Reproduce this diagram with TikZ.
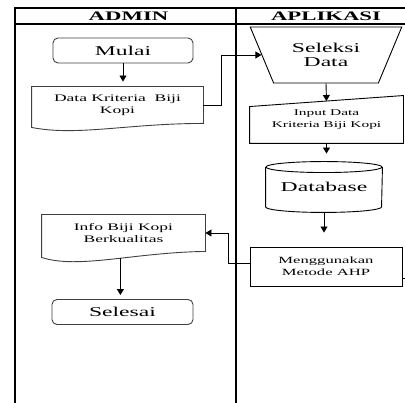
\documentclass[tikz,border=0pt]{standalone}
\usepackage{fontspec}
\setmainfont{Liberation Serif}[FakeStretch=1.75]
\usepackage{tikz}
\usetikzlibrary{positioning,calc,shapes.geometric,arrows.meta}

\tikzset{
  every box/.style={inner sep=0pt, align=center},
  lane title/.style={font=\fontsize{13}{14}\selectfont\bfseries},
  terminal/.style={every box/.try, draw=black!75, rounded corners=5pt,
    minimum height=25pt, font=\fontsize{13.5}{14}\selectfont},
  docbox/.style={every box/.try, font=\fontsize{10}{12}\selectfont},
  process/.style={every box/.try, draw, font=\fontsize{9.5}{12}\selectfont},
  lane/.style={line width=1.2pt}
}

\begin{document}
\begin{tikzpicture}[x=1pt, y=1pt, >={Triangle[length=6pt, width=7pt]}, line width=0.9pt]
\useasboundingbox (0,0) rectangle (405,403);

% swimlanes
\draw [lane] (405,395) -- (15,395) -- (15,0);
\draw [lane] (15,379) -- (405,379);
\draw [lane] (236,395) -- (236,0);
\node [lane title] (admin) at (128.5,387) {ADMIN};
\node [lane title] (aplikasi) at (326,387) {APLIKASI};

% admin lane
\node [terminal, minimum width=140pt] (mulai) at (123,352.5) {Mulai};
\node [docbox, minimum width=171pt, minimum height=36pt] (kriteria) at (117.5,298)
  {Data Kriteria\ \ Biji\\Kopi};
\node [docbox, minimum width=163pt, minimum height=36pt] (info) at (123.5,170)
  {Info Biji Kopi\\Berkualitas};
\node [terminal, minimum width=141pt] (selesai) at (122.5,91) {Selesai};

\draw [draw=black!75] (kriteria.north west) -- (kriteria.north east) -- (kriteria.south east)
  .. controls ($(kriteria.south)+(10,0)$) and ($(kriteria.south)+(-40,-13)$)
  .. ($(kriteria.south west)+(0,-4)$) -- cycle;
\draw [draw=black!75] (info.north west) -- (info.north east) -- (info.south east)
  .. controls ($(info.south)+(10,-1)$) and ($(info.south)+(-45,-18)$)
  .. coordinate [pos=0.44] (info-foot) ($(info.south west)+(0,-6)$) -- cycle;

% aplikasi lane
\node [every box/.try, draw, trapezium, shape border rotate=180, trapezium stretches=true,
  trapezium left angle=56.5, trapezium right angle=56.5,
  minimum width=152pt, minimum height=56pt, font=\fontsize{13.5}{13.5}\selectfont]
  (seleksi) at (326,348) {Seleksi\\Data};
\node [docbox, minimum width=153pt, minimum height=47pt, font=\fontsize{8.8}{12.5}\selectfont]
  (input) at (326.5,283.5) {Input Data\\Kriteria Biji Kopi};
\node [every box/.try, minimum width=116pt, minimum height=50pt,
  font=\fontsize{13.5}{14}\selectfont] (database) at (324,216) {Database};
\node [process, minimum width=152pt, minimum height=39pt] (ahp) at (326,136.5)
  {Menggunakan\\Metode AHP};

\draw ($(input.north west)+(0,-11)$) -- coordinate [pos=0.5] (input-top) (input.north east)
  -- (input.south east) -- (input.south west) -- cycle;
\draw ($(database.north)+(0,-5.5)$) ellipse [x radius=58, y radius=5.5];
\draw ($(database.north west)+(0,-5.5)$) -- ($(database.south west)+(0,5.5)$)
  arc [start angle=180, end angle=360, x radius=58, y radius=5.5]
  -- ($(database.north east)+(0,-5.5)$);

% flow
\draw [->, shorten >=5pt] (mulai.south) -- (mulai.south |- kriteria.north);
\draw [->] (kriteria.east) -- ++(18,0) |- (seleksi);
\draw [->] (seleksi.south) -- (input-top);
\draw [->, shorten >=8pt] (input.south) -- (input.south |- database.north);
\draw [->, shorten >=14pt] (database.south) -- (database.south |- ahp.north);
\draw [->] ($(ahp.west)+(0,3)$) -- ++(-21,0) |- (info);
\draw [->, shorten >=4pt] (info-foot) -- (info-foot |- selesai.north);
\draw ($(ahp.south east)+(0,8)$) -- ++(4,0);
\end{tikzpicture}
\end{document}
